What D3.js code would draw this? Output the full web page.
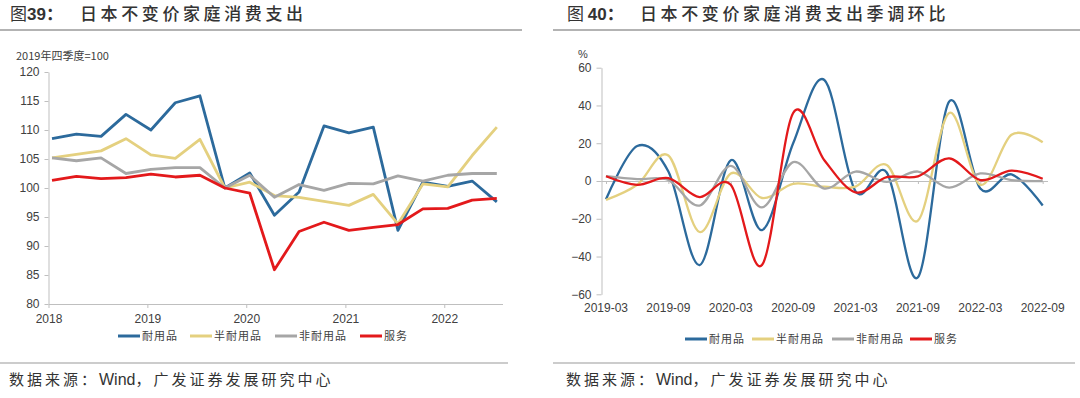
<!DOCTYPE html>
<html>
<head>
<meta charset="utf-8">
<script src="https://cdn.jsdelivr.net/npm/d3@7"></script>
<style>
  body { margin: 0; background: #fff; }
  svg { display: block; font-family: "Liberation Sans", Arial, sans-serif; }
  .cn { font-family: "Noto Sans CJK SC", sans-serif; }
  .axis path, .axis line { stroke: #bfbfbf; }
  .axis text { fill: #404040; font-size: 12px; font-family: "Liberation Sans", Arial, sans-serif; }
</style>
</head>
<body>
<div id="chart"></div>
<script>
const width = 1080, height = 398;

// series names and colours
const seriesNames = ["耐用品", "半耐用品", "非耐用品", "服务"];
const seriesColors = ["#2c6a9c", "#e4d07f", "#a6a6a6", "#e3191b"];

// left chart: index, 2019Q4 = 100, quarterly 2018Q1 - 2022Q3
const levelQuarters = ["2018Q1","2018Q2","2018Q3","2018Q4","2019Q1","2019Q2","2019Q3","2019Q4",
  "2020Q1","2020Q2","2020Q3","2020Q4","2021Q1","2021Q2","2021Q3","2021Q4","2022Q1","2022Q2","2022Q3"];
const durableLevel    = [108.5,109.3,108.9,112.7,110.0,114.7,115.9,100.0,102.6,95.3,99.3,110.7,109.5,110.5,92.7,101.0,100.3,101.2,97.6];
const semiLevel       = [105.2,105.8,106.4,108.5,105.7,105.1,108.4,100.0,101.0,98.7,98.4,97.7,97.0,98.9,93.8,100.7,100.2,105.6,110.5];
const nondurableLevel = [105.2,104.7,105.2,102.5,103.2,103.5,103.5,100.0,102.2,98.4,100.6,99.6,100.8,100.7,102.1,101.2,102.2,102.5,102.5];
const serviceLevel    = [101.3,102.0,101.6,101.8,102.4,101.9,102.2,100.0,99.1,85.9,92.5,94.1,92.7,93.2,93.7,96.4,96.5,97.9,98.2];
const levelYTicks = [80,85,90,95,100,105,110,115,120];

// right chart: seasonally adjusted q/q, %, 2019-03 - 2022-09
const qoqMonths = ["2019-03","2019-06","2019-09","2019-12","2020-03","2020-06","2020-09","2020-12",
  "2021-03","2021-06","2021-09","2021-12","2022-03","2022-06","2022-09"];
const durableQoq    = [-9.7,18.5,5,-44.5,11,-26,20,53.5,-5.5,4.5,-51,42,-4,3.5,-13];
const semiQoq       = [-10,-2,13.5,-27,4,-9,-1.5,-3,-3,8.5,-21,36,-2,24.5,20.5];
const nondurableQoq = [2.6,1,0.5,-13,8,-14,10,-4,5,-0.5,5,-3.5,4,0.5,0];
const serviceQoq    = [2.5,-2,1.5,-8.5,-2,-44.5,36,11,-6,2,2.5,12,0.5,5.5,1.2];
const qoqYTicks = [-60,-40,-20,0,20,40,60];
const qoqXLabels = ["2019-03","2019-09","2020-03","2020-09","2021-03","2021-09","2022-03","2022-09"];

const svg = d3.select("#chart").append("svg")
  .attr("width", width).attr("height", height);

function header(x0, x1, figNo, prefixX, title, titleX) {
  const p = svg.append("text").attr("class", "cn").attr("x", prefixX).attr("y", 20)
    .attr("font-size", 17).attr("fill", "#333");
  p.append("tspan").text(figNo.startsWith(" ") ? "图 " : "图");
  p.append("tspan").attr("font-family", "Liberation Sans, Arial, sans-serif")
    .attr("font-weight", "bold").text(figNo.trim());
  p.append("tspan").attr("font-weight", "bold").text("：");
  svg.append("text").attr("class", "cn").attr("x", titleX).attr("y", 20)
    .attr("font-size", 17).attr("font-weight", 500).attr("letter-spacing", "3.6px")
    .attr("fill", "#333").text(title);
  svg.append("line").attr("x1", x0).attr("x2", x1).attr("y1", 30).attr("y2", 30)
    .attr("stroke", "#9a9a9a").attr("stroke-width", 1.5);
}

function footer(x0, x1, textX) {
  svg.append("line").attr("x1", x0).attr("x2", x1).attr("y1", 363).attr("y2", 363)
    .attr("stroke", "#9a9a9a").attr("stroke-width", 1.2);
  const t = svg.append("text").attr("class", "cn").attr("x", textX).attr("y", 385)
    .attr("font-size", 15).attr("fill", "#333");
  t.append("tspan").attr("letter-spacing", "3px").text("数据来源：");
  t.append("tspan").attr("font-family", "Liberation Sans, Arial, sans-serif").attr("font-size", 16).text("Wind");
  t.append("tspan").attr("letter-spacing", "3px").text("，广发证券发展研究中心");
}

function legend(xs, y) {
  seriesNames.forEach((name, i) => {
    svg.append("line").attr("x1", xs[i]).attr("x2", xs[i] + 22).attr("y1", y).attr("y2", y)
      .attr("stroke", seriesColors[i]).attr("stroke-width", 3);
    svg.append("text").attr("class", "cn").attr("x", xs[i] + 24).attr("y", y + 4)
      .attr("font-size", 11).attr("letter-spacing", "1px").attr("fill", "#404040").text(name);
  });
}

// ---------- left chart ----------
function drawLevels() {
  const parseQ = q => new Date(+q.slice(0, 4), (+q.slice(5) - 1) * 3, 14);
  const xScale = d3.scaleTime()
    .domain([new Date(2018, 0, 1), new Date(2022, 7, 4)])
    .range([48.5, 502.5]);
  const yScale = d3.scaleLinear().domain([80, 120]).range([304, 72]);

  svg.append("g").attr("class", "axis")
    .attr("transform", "translate(0,304)")
    .call(d3.axisBottom(xScale).ticks(d3.timeYear.every(1)).tickFormat(d3.timeFormat("%Y"))
      .tickSizeInner(4).tickSizeOuter(0).tickPadding(4))
    .call(g => g.selectAll("text").attr("dy", "0.95em"));

  svg.append("g").attr("class", "axis")
    .attr("transform", "translate(48.5,0)")
    .call(d3.axisLeft(yScale).tickValues(levelYTicks).tickSizeInner(4).tickSizeOuter(0).tickPadding(5));

  svg.append("text").attr("class", "cn").attr("x", 16).attr("y", 60)
    .attr("font-size", 11).attr("fill", "#404040").text("2019年四季度=100");

  const line = d3.line()
    .x((d, i) => xScale(parseQ(levelQuarters[i])))
    .y(d => yScale(d));

  [durableLevel, semiLevel, nondurableLevel, serviceLevel].forEach((s, i) => {
    svg.append("path").datum(s)
      .attr("fill", "none").attr("stroke", seriesColors[i])
      .attr("stroke-width", 2.8).attr("stroke-linejoin", "round")
      .attr("d", line);
  });
  legend([118, 190, 275, 360], 336);
}

// ---------- right chart ----------
function drawQoq() {
  const xScale = d3.scalePoint().domain(qoqMonths).range([606, 1042.7]);
  const yScale = d3.scaleLinear().domain([-60, 60]).range([294.3, 67.7]);

  svg.append("g").attr("class", "axis")
    .attr("transform", "translate(601.5,0)")
    .call(d3.axisLeft(yScale).tickValues(qoqYTicks).tickFormat(d3.format("d"))
      .tickSizeInner(5).tickSizeOuter(0).tickPadding(5));

  // zero line with ticks
  const zero = svg.append("g").attr("class", "axis")
    .attr("transform", "translate(0," + yScale(0) + ")")
    .call(d3.axisBottom(xScale).tickValues(qoqXLabels).tickSizeInner(3).tickSizeOuter(0).tickFormat(""));
  zero.select(".domain").attr("d", "M601.5,0.5H1048");

  // date labels under the plot
  svg.append("g").selectAll("text").data(qoqXLabels).join("text")
    .attr("x", d => xScale(d)).attr("y", 312)
    .attr("text-anchor", "middle").attr("font-size", 12).attr("fill", "#404040")
    .text(d => d);

  svg.append("text").attr("x", 578).attr("y", 58)
    .attr("font-size", 11).attr("fill", "#404040").text("%");

  const line = d3.line()
    .x((d, i) => xScale(qoqMonths[i]))
    .y(d => yScale(d))
    .curve(d3.curveCardinal.tension(0));

  [durableQoq, semiQoq, nondurableQoq, serviceQoq].forEach((s, i) => {
    svg.append("path").datum(s)
      .attr("fill", "none").attr("stroke", seriesColors[i])
      .attr("stroke-width", 2.3)
      .attr("d", line);
  });
  legend([685, 752, 832, 910], 339);
}

header(0, 522, "39", 10, "日本不变价家庭消费支出", 80);
header(553, 1080, " 40", 567, "日本不变价家庭消费支出季调环比", 640);
drawLevels();
drawQoq();
footer(0, 508, 9);
footer(553, 1075, 566);
</script>
</body>
</html>
